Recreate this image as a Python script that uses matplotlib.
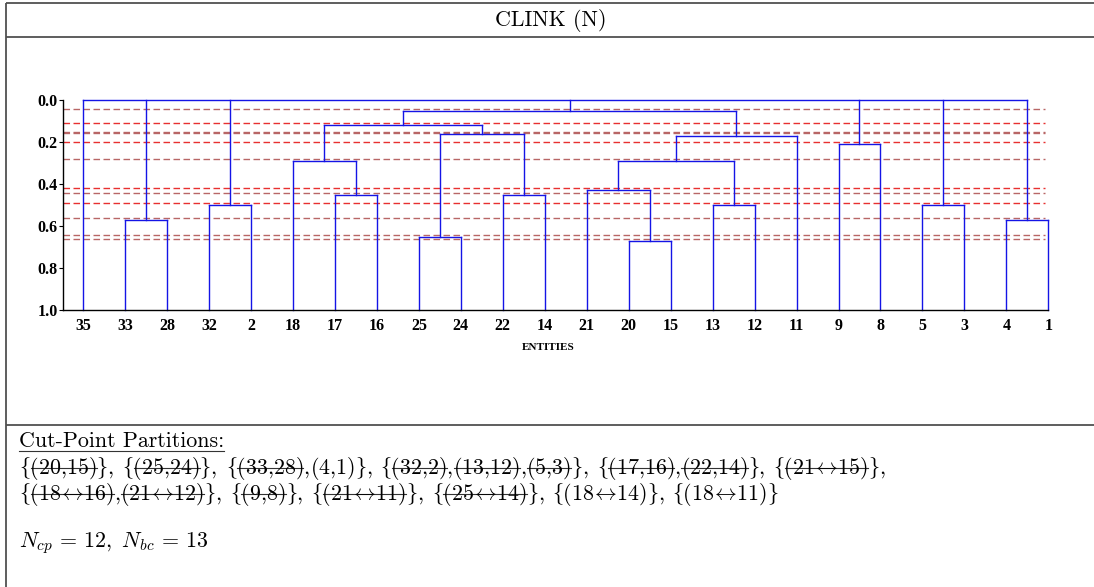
import matplotlib
matplotlib.use('Agg')
import matplotlib.pyplot as plt

plt.rcParams['mathtext.fontset'] = 'cm'

W, H = 1094, 587

# leaf order along the x axis
leaf_labels = ['35', '33', '28', '32', '2', '18', '17', '16', '25', '24', '22', '14',
               '21', '20', '15', '13', '12', '11', '9', '8', '5', '3', '4', '1']

# merges in build order: new cluster name, members, merge distance
merge_names = ['A', 'B', 'C', 'D', 'E', 'F', 'G', 'H', 'I', 'J', 'K', 'L', 'M',
               'N', 'O', 'P', 'Q', 'root']
merge_members = [['33', '28'], ['32', '2'], ['17', '16'], ['18', 'C'],
                 ['25', '24'], ['22', '14'], ['E', 'F'], ['D', 'G'],
                 ['20', '15'], ['21', 'I'], ['13', '12'], ['J', 'K'], ['L', '11'],
                 ['H', 'M'], ['9', '8'], ['5', '3'], ['4', '1'],
                 ['35', 'A', 'B', 'N', 'O', 'P', 'Q']]
merge_heights = [0.57, 0.50, 0.45, 0.29, 0.65, 0.45, 0.16, 0.12, 0.67, 0.43,
                 0.50, 0.29, 0.17, 0.05, 0.21, 0.50, 0.57, 0.0]

# cut levels (dashed lines)
cut_levels = [0.04, 0.11, 0.15, 0.157, 0.20, 0.28, 0.42, 0.44, 0.49, 0.56, 0.64, 0.66]
cut_colors = ['#b86666', '#e83030', '#b86666', '#b86666', '#e83030', '#b86666',
              '#e83030', '#b86666', '#e83030', '#b86666', '#b86666', '#b86666']

# cut-point partitions: (pair, struck out)
partitions = [
    [('20,15', True)],
    [('25,24', True)],
    [('33,28', True), ('4,1', False)],
    [('32,2', True), ('13,12', True), ('5,3', True)],
    [('17,16', True), ('22,14', True)],
    [('21<>15', True)],
    [('18<>16', True), ('21<>12', True)],
    [('9,8', True)],
    [('21<>11', True)],
    [('25<>14', True)],
    [('18<>14', False)],
    [('18<>11', False)],
]
groups_first_row = 6
n_cp, n_bc = 12, 13

fig = plt.figure(figsize=(W / 100, H / 100), dpi=100)
fig.patch.set_facecolor('white')

# full-figure overlay in pixel coordinates for the frame and text
ax0 = fig.add_axes([0, 0, 1, 1])
ax0.set_xlim(0, W)
ax0.set_ylim(H, 0)
ax0.axis('off')

frame = dict(color='#505050', lw=1.3, clip_on=False, solid_capstyle='butt')
ax0.plot([6, W], [3, 3], **frame)
ax0.plot([6, W], [37, 37], **frame)
ax0.plot([6, W], [425, 425], **frame)
ax0.plot([6, 6], [3, H], **frame)

FS = 15.8
em = FS * 100 / 72
ax0.text(551, 20, 'CLINK (N)', fontfamily='cmr10', fontsize=FS,
         ha='center', va='center')

renderer = fig.canvas.get_renderer()

t = ax0.text(19, 447, 'Cut-Point Partitions:', fontfamily='cmr10', fontsize=FS,
             va='baseline')
bb = t.get_window_extent(renderer)
ax0.plot([19, 19 + bb.width], [451, 451], color='#333333', lw=0.8)

# text-size braces from the cmsy10 symbol font (slots 'f' and 'g')
LBRACE, RBRACE = r'\mathcal{f}', r'\mathcal{g}'


def width_of(tokens):
    if not tokens:
        return 0.0
    tmp = ax0.text(0, 0, '$' + ''.join(tokens) + '$', fontsize=FS)
    w = tmp.get_window_extent(renderer).width
    tmp.remove()
    return w


def pair_tex(p):
    if '<>' in p:
        a, b = p.split('<>')
        return r'(%s\!\leftrightarrow\!%s)' % (a, b)
    return '(%s)' % p.replace(',', '{,}')


rows = [partitions[:groups_first_row], partitions[groups_first_row:]]
baselines = [474, 500]
gap = 0.36 * em
for r, (row, yb) in enumerate(zip(rows, baselines)):
    x = 19
    ys = yb - 0.27 * em
    for g, group in enumerate(row):
        tokens, struck = [LBRACE], [False]
        for k, (pair, s) in enumerate(group):
            if k > 0:
                tokens.append('{,}')
                struck.append(False)
            tokens.append(pair_tex(pair))
            struck.append(s)
        tokens.append(RBRACE)
        struck.append(False)
        if g < len(row) - 1 or r == 0:
            tokens.append('{,}')
            struck.append(False)
        ax0.text(x, yb, '$' + ''.join(tokens) + '$', fontsize=FS, va='baseline')
        for i, s in enumerate(struck):
            if s:
                x0 = x + width_of(tokens[:i])
                x1 = x + width_of(tokens[:i + 1])
                ax0.plot([x0, x1], [ys, ys], color='#333333', lw=0.8)
        x += width_of(tokens) + gap

ax0.text(19, 547, r'$N_{cp}\,=\,%d,\ N_{bc}\,=\,%d$' % (n_cp, n_bc),
         fontsize=FS, va='baseline')

# dendrogram panel
ax = fig.add_axes([63.3 / W, (H - 310) / H, 985 / W, 209.7 / H])
ax.patch.set_alpha(0)
ax.set_xlim(-0.475, 23)
ax.set_ylim(1, 0)

ax.hlines(cut_levels, -0.475, 22.92, colors=cut_colors, linestyles=(0, (4.7, 2.5)),
          lw=1.0, zorder=1)

line_kw = dict(color='#1414e6', lw=1.0, clip_on=False, zorder=2)
xpos = {lab: i for i, lab in enumerate(leaf_labels)}
ypos = {lab: 1.0 for lab in leaf_labels}
for name, members, h in zip(merge_names, merge_members, merge_heights):
    xs = [xpos[m] for m in members]
    for m in members:
        ax.plot([xpos[m], xpos[m]], [ypos[m], h], **line_kw)
    ax.plot([min(xs), max(xs)], [h, h], **line_kw)
    xpos[name] = (min(xs) + max(xs)) / 2
    ypos[name] = h

for s in ['top', 'right']:
    ax.spines[s].set_visible(False)
for s in ['left', 'bottom']:
    ax.spines[s].set_linewidth(1.0)
    ax.spines[s].set_color('black')

tick_font = dict(family='Liberation Serif', weight='bold', size=11.5)
ax.set_yticks([0.0, 0.2, 0.4, 0.6, 0.8, 1.0])
ax.set_yticklabels(['%.1f' % v for v in [0.0, 0.2, 0.4, 0.6, 0.8, 1.0]], fontdict=tick_font)
ax.set_xticks(range(len(leaf_labels)))
ax.set_xticklabels(leaf_labels, fontdict=tick_font)
ax.tick_params(axis='y', length=3, width=0.8, pad=1, direction='out')
ax.tick_params(axis='x', length=0, pad=6)

ax0.text(548, 348, 'ENTITIES', family='Liberation Serif', weight='bold',
         fontsize=8, ha='center', va='center')

fig.savefig('out.png', dpi=100)
